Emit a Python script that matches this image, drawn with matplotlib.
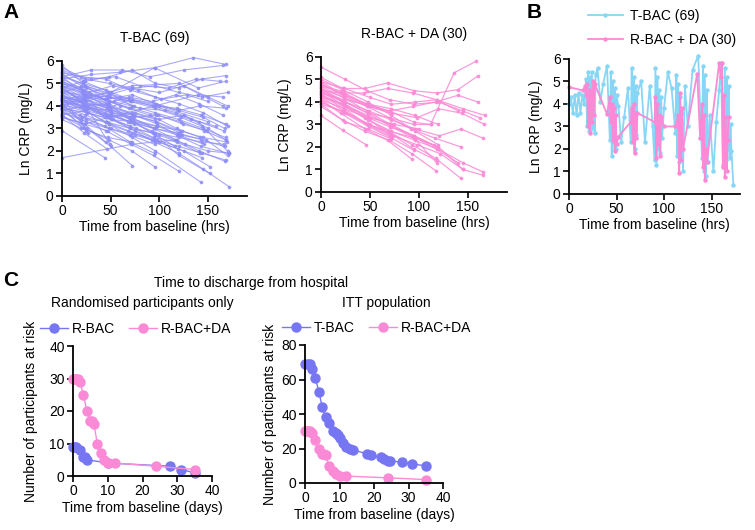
import matplotlib.pyplot as plt

plt.rcParams['font.family'] = ['Liberation Sans', 'DejaVu Sans']
plt.rcParams['font.size'] = 10

# ---- panel A data: one list per participant (hours, Ln CRP) ----
tbac_hrs = [
    [0, 22, 47, 70, 95, 120, 145, 172], [0, 24, 48, 72, 96, 143], [0, 25, 49, 73, 96, 120, 152],
    [0, 20, 45, 71, 94, 120], [0, 23, 48, 72, 95], [0, 26, 50, 72], [0, 44], [0, 72, 118],
    [0, 30, 60, 95, 135, 168], [0, 24, 48, 72, 96, 120, 144, 168], [0, 30, 62, 90, 125, 165],
    [0, 22, 50, 95, 140, 168], [0, 25, 48, 72, 100, 125, 150, 170], [0, 24, 72, 120, 165],
    [0, 20, 45, 70, 96, 120, 145, 170], [0, 22, 48, 71, 97, 122, 146, 168],
    [0, 24, 47, 73, 98, 118, 143, 171], [0, 26, 49, 70, 94, 117, 141, 167],
    [0, 23, 45, 68, 92, 119, 144], [0, 25, 50, 75, 100, 125, 152], [0, 18, 44, 70, 95],
    [0, 24, 48, 72, 96, 120, 145, 168], [0, 20, 46, 70, 96, 122, 144, 170],
    [0, 22, 47, 72, 97, 120, 145, 167], [0, 24, 48, 95, 140, 165],
    [0, 25, 50, 73, 97, 121, 145, 169], [0, 21, 45, 70, 95, 120, 144, 166],
    [0, 23, 48, 71, 96, 118, 143, 168], [0, 28, 52, 78, 102, 128, 150], [0, 22, 48],
    [0, 24, 47], [0, 26, 49], [0, 20, 45], [0, 24], [0, 25], [0, 23, 46], [0, 27],
    [0, 22, 50, 74], [0, 26, 51, 75, 98], [0, 19, 44, 69], [0, 24, 48, 73, 97, 121],
    [0, 25, 50, 74, 99, 124, 149], [0, 21, 46, 72, 95, 119, 142, 168],
    [0, 24, 49, 72, 96, 120, 144, 170], [0, 30, 55, 80, 110, 138, 162],
    [0, 22, 46, 70, 94, 118, 142], [0, 24, 47, 70, 93, 116], [0, 23, 48, 73, 98, 123, 148, 170],
    [0, 26, 52, 76, 100, 126, 150, 172], [0, 20, 47, 72], [0, 25, 48, 70, 95],
    [0, 24, 48, 72, 96, 120, 146], [0, 22, 45, 69, 93, 117, 141, 166],
    [0, 27, 53, 80, 106, 132, 158], [0, 24, 60, 100, 150], [0, 20, 44, 68, 92, 116],
    [0, 24, 47, 71, 95, 119, 143, 167], [0, 23, 46, 70], [0, 25, 49, 74], [0, 22, 46],
    [0, 24, 48, 72, 96], [0, 26, 50, 74, 98, 123], [0, 21, 45, 69, 93, 117, 141, 165],
    [0, 25, 50, 75, 100, 125, 150, 168], [0, 24, 48, 72], [0, 22, 47, 71, 96],
    [0, 30, 60, 90, 118, 142], [0, 23, 47], [0, 24, 48, 72, 96, 120, 144, 168],
]
tbac_crp = [
    [4.6, 4.1, 3.5, 3.0, 2.4, 1.9, 1.2, 0.4], [4.2, 3.8, 3.2, 2.6, 2.0, 0.6], [5.0, 4.5, 3.9, 3.3, 2.7, 1.8, 1.0],
    [3.9, 3.4, 2.9, 2.3, 1.8, 1.1], [3.6, 3.0, 2.5, 2.0, 1.3], [3.8, 3.0, 2.2, 1.35], [2.9, 1.7], [1.7, 2.3, 2.5],
    [5.2, 5.4, 5.5, 5.7, 6.15, 5.85], [5.5, 5.1, 5.3, 5.6, 5.0, 4.8, 5.2, 5.35], [5.3, 5.6, 5.6, 5.3, 5.6, 5.8],
    [4.8, 5.1, 4.6, 5.7, 4.8, 5.1], [4.4, 4.2, 4.5, 4.8, 4.6, 4.9, 4.4, 4.0], [4.1, 4.3, 4.9, 5.0, 4.0],
    [5.7, 5.3, 5.2, 4.7, 4.4, 4.1, 3.7, 3.1], [5.1, 4.7, 4.2, 3.9, 3.6, 3.3, 2.9, 2.5],
    [4.9, 4.3, 4.0, 3.6, 3.2, 2.7, 2.2, 1.9], [4.5, 4.0, 3.6, 3.3, 3.0, 2.5, 2.0, 1.55],
    [4.3, 3.8, 3.3, 2.9, 2.5, 2.1, 1.7], [3.7, 3.4, 3.0, 2.7, 2.4, 2.0, 1.3], [4.0, 3.6, 3.1, 2.4, 1.9],
    [4.7, 4.4, 4.6, 4.0, 3.7, 3.4, 3.0, 2.6], [5.4, 4.9, 4.4, 4.2, 3.9, 3.5, 3.1, 2.0],
    [4.0, 4.2, 3.9, 4.3, 4.1, 3.8, 3.5, 3.0], [3.5, 3.2, 3.5, 4.0, 4.5, 4.4],
    [4.2, 3.9, 3.8, 3.6, 3.3, 2.9, 2.6, 2.4], [3.9, 3.5, 3.3, 3.0, 2.8, 2.6, 2.4, 2.3],
    [4.6, 4.5, 4.4, 4.2, 4.0, 3.9, 3.6, 3.2], [5.0, 4.6, 4.9, 4.7, 4.3, 4.5, 4.2], [5.8, 5.0, 4.1],
    [5.3, 4.5, 3.3], [4.9, 3.9, 2.3], [4.1, 3.3, 2.4], [4.5, 3.8], [3.9, 2.9], [3.6, 2.8, 2.1], [4.4, 2.8],
    [4.8, 4.2, 3.7, 3.2], [4.3, 3.9, 3.4, 2.9, 2.5], [5.2, 4.8, 4.3, 3.9], [4.0, 4.4, 4.1, 3.6, 3.3, 2.8],
    [3.8, 4.0, 3.7, 3.5, 3.6, 3.2, 2.9], [4.9, 4.6, 4.3, 4.5, 4.1, 3.8, 4.0, 3.9],
    [5.6, 5.2, 5.0, 4.8, 4.9, 4.6, 4.4, 4.6], [5.5, 5.2, 5.3, 4.9, 4.8, 5.2, 5.1],
    [4.4, 4.0, 3.5, 3.1, 2.6, 2.4, 1.9], [5.1, 4.6, 4.1, 3.4, 2.8, 2.2], [4.7, 4.3, 3.9, 3.4, 3.1, 2.7, 2.5, 1.8],
    [4.1, 3.7, 3.4, 3.0, 2.7, 2.3, 2.0, 1.9], [3.4, 3.0, 2.6, 2.4], [3.7, 3.3, 3.0, 2.7, 2.3],
    [4.5, 4.1, 3.8, 3.4, 3.0, 2.7, 2.3], [5.3, 5.0, 4.7, 4.3, 4.0, 3.7, 3.3, 2.9],
    [4.2, 4.4, 4.2, 3.9, 3.8, 3.4, 3.1], [4.6, 4.9, 4.4, 4.0, 3.3], [4.8, 4.2, 3.7, 3.3, 2.9, 2.5],
    [4.0, 3.9, 3.6, 3.3, 3.0, 2.8, 2.5, 2.2], [4.3, 4.0, 3.6, 3.5], [5.0, 4.8, 4.4, 4.0], [4.6, 4.3, 3.9],
    [4.4, 4.1, 4.0, 3.7, 3.4], [3.9, 3.7, 3.4, 3.3, 3.1, 2.9], [4.2, 4.0, 4.1, 4.4, 4.2, 4.5, 4.1, 3.6],
    [3.6, 3.8, 3.5, 3.7, 3.4, 3.6, 3.0, 2.5], [5.4, 4.9, 4.5, 4.2], [4.9, 4.5, 4.0, 3.5, 3.0],
    [4.3, 4.5, 4.0, 3.6, 3.0, 2.6], [3.5, 3.2, 2.9], [4.0, 3.6, 3.2, 2.8, 2.5, 2.2, 1.9, 1.6],
]

rbacda_hrs = [
    [0, 25, 47, 70, 95, 120, 145, 162], [0, 24, 48, 70, 95, 112, 136, 158],
    [0, 22, 45, 68, 95, 118, 140, 160], [0, 24, 50, 72, 96, 118, 145, 168],
    [0, 20, 46, 70, 94, 117, 140, 160], [0, 23, 48, 73, 98, 120, 144, 167],
    [0, 25, 49, 72, 96, 121, 143, 165], [0, 22, 47, 70, 92, 116, 143],
    [0, 24, 48, 72, 96, 120, 145, 165], [0, 26, 50, 74, 98, 122, 145, 165],
    [0, 21, 45, 69, 93, 117, 143], [0, 24, 47, 71, 95, 118], [0, 22, 45, 70, 93, 117],
    [0, 25, 48, 72, 95, 118], [0, 20, 45, 68, 93], [0, 23, 47, 71, 95, 115], [0, 24, 48, 72, 96, 120],
    [0, 22, 46], [0, 25, 48, 72], [0, 24, 47, 70], [0, 23, 48, 70, 93, 118, 140],
    [0, 20, 48, 72, 96, 120], [0, 24, 45, 70, 95, 112], [0, 25, 50, 72],
    [0, 22, 44, 68, 94, 118, 140], [0, 24, 48, 70, 95, 118], [0, 21, 47, 71],
    [0, 24, 49, 72, 95], [0, 22, 48, 70, 96, 120, 145], [0, 26, 50, 75, 100],
]
rbacda_crp = [
    [5.55, 5.0, 4.5, 4.1, 3.9, 4.0, 3.6, 3.3], [4.5, 4.0, 3.5, 3.3, 3.0, 3.0, 5.3, 5.8],
    [5.1, 4.6, 4.6, 4.85, 4.5, 4.4, 4.55, 5.15], [4.9, 4.6, 4.2, 3.9, 4.0, 4.1, 3.7, 3.4],
    [4.7, 4.5, 3.9, 3.6, 3.8, 4.0, 4.3, 4.0], [4.6, 4.2, 3.8, 3.5, 3.3, 3.7, 3.5, 3.0],
    [4.4, 4.0, 3.6, 3.2, 2.8, 2.5, 2.8, 2.4], [4.8, 4.3, 3.8, 3.3, 2.8, 2.4, 2.0],
    [4.3, 3.8, 3.2, 2.7, 2.3, 1.9, 1.3, 0.9], [4.0, 3.5, 3.0, 2.5, 2.1, 1.7, 1.0, 0.75],
    [4.5, 3.9, 3.3, 2.7, 2.1, 1.5, 0.6], [4.2, 3.6, 3.0, 2.6, 1.9, 1.4], [3.8, 3.2, 2.7, 2.3, 1.7, 0.95],
    [4.6, 4.0, 3.5, 2.9, 2.4, 1.3], [4.1, 3.5, 2.8, 2.3, 1.45], [4.7, 4.2, 3.6, 3.0, 2.5, 2.1],
    [5.0, 4.5, 4.0, 3.4, 2.7, 2.1], [3.4, 2.75, 2.1], [3.9, 3.1, 2.8, 2.35], [4.3, 3.7, 3.0, 2.5],
    [4.2, 3.9, 3.4, 3.0, 2.5, 1.9, 1.3], [4.9, 4.4, 3.9, 3.7, 3.4, 3.0], [4.4, 4.1, 3.9, 3.6, 3.1, 3.0],
    [4.8, 4.3, 3.8, 3.5], [4.5, 4.4, 4.4, 4.6, 4.4, 4.1, 3.6], [4.1, 3.7, 3.3, 2.9, 2.5, 2.0],
    [4.6, 4.0, 3.3, 2.5], [4.0, 3.5, 2.9, 2.4, 1.85], [3.9, 3.6, 3.0, 2.7, 2.4, 2.0, 1.0],
    [4.35, 3.8, 3.3, 3.0, 2.8],
]

# ---- panel B data: all values joined as one series per arm ----
b_tbac_hrs = [0, 2, 4, 6, 8, 10, 12, 14, 16, 18, 19, 20, 21, 22, 23, 24, 25, 26, 27, 28,
              30, 33, 36, 40, 43, 44, 45, 46, 47, 48, 49, 50, 52, 55, 58, 62, 65, 66, 67,
              68, 69, 70, 71, 72, 76, 80, 85, 88, 90, 91, 92, 93, 94, 95, 96, 97, 98, 100,
              104, 108, 112, 113, 114, 115, 116, 117, 118, 119, 120, 122, 125, 130, 136,
              140, 141, 142, 143, 144, 145, 146, 148, 152, 155, 158, 160, 162, 164, 165,
              166, 167, 168, 169, 170, 171, 173]
b_tbac_crp = [4.0, 4.3, 3.6, 4.4, 3.5, 4.5, 3.6, 4.4, 4.0, 5.1, 3.0, 5.4, 2.8, 5.2, 2.9,
              5.4, 3.0, 4.6, 2.7, 5.3, 5.6, 4.1, 4.9, 5.7, 2.4, 5.4, 1.7, 5.0, 2.3, 4.7,
              2.0, 4.4, 3.9, 2.3, 3.4, 4.7, 2.3, 5.6, 2.8, 5.2, 2.0, 4.8, 2.6, 4.5, 5.0,
              2.3, 4.8, 3.0, 1.5, 5.6, 1.3, 5.2, 2.0, 4.6, 1.8, 4.3, 2.5, 3.8, 5.4, 4.7,
              2.7, 5.3, 1.7, 4.9, 1.4, 4.3, 2.2, 3.6, 1.0, 4.8, 3.0, 5.5, 6.15, 1.6, 5.7,
              1.0, 5.3, 0.8, 4.6, 1.4, 3.5, 1.0, 3.2, 4.6, 5.8, 1.3, 5.6, 1.5, 5.2, 2.0,
              4.8, 1.6, 3.1, 1.9, 0.4]
b_rbacda_hrs = [0, 15, 17, 18, 19, 20, 21, 22, 23, 24, 25, 26, 27, 40, 43, 44, 45, 46,
                47, 48, 49, 50, 52, 65, 66, 67, 68, 69, 70, 71, 72, 90, 91, 92, 93, 94,
                95, 96, 97, 100, 112, 115, 116, 117, 118, 119, 120, 135, 138, 140, 141,
                142, 143, 144, 145, 158, 160, 161, 162, 163, 164, 165, 166, 167, 168]
b_rbacda_crp = [4.75, 4.6, 4.8, 4.4, 4.9, 3.0, 4.6, 2.7, 4.5, 3.2, 5.0, 3.5, 4.9, 3.55,
                4.3, 3.2, 4.0, 2.4, 3.8, 1.9, 3.5, 2.2, 2.55, 3.2, 3.8, 2.3, 4.0, 1.8,
                3.6, 2.5, 3.6, 3.2, 4.3, 1.6, 4.0, 2.2, 3.5, 1.7, 3.4, 3.0, 3.0, 3.5,
                0.95, 4.5, 1.5, 3.8, 2.0, 5.35, 2.5, 4.0, 1.2, 3.5, 0.6, 2.0, 1.4, 5.8,
                5.2, 5.8, 1.2, 4.4, 0.75, 3.4, 1.0, 2.4, 3.4]

# ---- panel C data ----
rbac_days = [0, 0.5, 1, 2, 3, 3.5, 4, 10, 28, 31, 35]
rbac_risk = [9, 9, 9, 8, 6, 6, 5, 4, 3, 2, 1]
rbacda_days = [0, 0.5, 1, 1.5, 2, 3, 4, 5, 5.5, 6, 7, 8, 9, 10, 12, 24, 35]
rbacda_risk = [30, 30, 30, 30, 29, 25, 20, 17, 17, 16, 10, 7, 5, 4, 4, 3, 2]
tbac_days = [0, 1, 1.5, 2, 3, 4, 5, 6, 7, 8, 9, 9.5, 10, 11, 12, 13, 14, 18, 19, 22, 23,
             24, 24.5, 28, 31, 35]
tbac_risk = [69, 69, 69, 66, 61, 53, 44, 38, 35, 30, 29, 28, 26, 23, 21, 20, 19, 17, 16,
             15, 14, 13, 13, 12, 11, 10]

lav = '#8c8cf7'
pink = '#fb8ad6'
cyan = '#88d6f6'
blue = '#7676f2'


def prism(ax):
    ax.spines['top'].set_visible(False)
    ax.spines['right'].set_visible(False)
    ax.spines['left'].set_linewidth(1.3)
    ax.spines['bottom'].set_linewidth(1.3)
    ax.tick_params(width=1.2, length=4, labelsize=10, pad=2)


fig = plt.figure(figsize=(7.55, 5.3), dpi=100)
W, H = 755.0, 530.0


def add_ax(l, t, r, b):
    return fig.add_axes([l / W, 1 - b / H, (r - l) / W, (b - t) / H])


# A left
ax1 = add_ax(62, 61, 247, 196)
for t, v in zip(tbac_hrs, tbac_crp):
    ax1.plot(t, v, '-o', color=lav, lw=0.8, ms=1.7, alpha=0.75, clip_on=False)
ax1.set_title('T-BAC (69)', fontsize=10, pad=14)

# A right
ax2 = add_ax(321, 57, 507, 192)
for t, v in zip(rbacda_hrs, rbacda_crp):
    ax2.plot(t, v, '-o', color=pink, lw=0.9, ms=1.7, alpha=0.85, clip_on=False)
ax2.set_title('R-BAC + DA (30)', fontsize=10, pad=14)

for ax in (ax1, ax2):
    ax.set_xlim(0, 190)
    ax.set_ylim(0, 6)
    ax.set_xticks([0, 50, 100, 150])
    ax.set_yticks(range(7))
    ax.set_xlabel('Time from baseline (hrs)', labelpad=1)
    ax.set_ylabel('Ln CRP (mg/L)', labelpad=9)
    prism(ax)

# B
ax3 = add_ax(569, 59, 740, 194)
ax3.plot(b_tbac_hrs, b_tbac_crp, '-o', color=cyan, lw=1.3, ms=2.2, label='T-BAC (69)', clip_on=False)
ax3.plot(b_rbacda_hrs, b_rbacda_crp, '-o', color=pink, lw=1.3, ms=2.2, label='R-BAC + DA (30)', clip_on=False)
ax3.set_xlim(0, 180)
ax3.set_ylim(0, 6)
ax3.set_xticks([0, 50, 100, 150])
ax3.set_yticks(range(7))
ax3.set_xlabel('Time from baseline (hrs)', labelpad=1)
ax3.set_ylabel('Ln CRP (mg/L)', labelpad=7)
prism(ax3)
ax3.legend(loc='upper left', bbox_to_anchor=(588 / W, 1 - 9 / H), bbox_transform=fig.transFigure,
           frameon=False, fontsize=10, handlelength=2.5, handletextpad=0.5, labelspacing=0.7,
           borderaxespad=0, borderpad=0)

# C left
ax4 = add_ax(73, 346, 212, 476)
ax4.plot(rbac_days, rbac_risk, '-o', color=blue, lw=1, ms=6.5, label='R-BAC', clip_on=False)
ax4.plot(rbacda_days, rbacda_risk, '-o', color=pink, lw=1, ms=6.5, label='R-BAC+DA', clip_on=False)
ax4.set_ylim(0, 40)
ax4.set_yticks([0, 10, 20, 30, 40])
ax4.set_ylabel('Number of participants at risk', labelpad=8)
ax4.legend(loc='lower center', bbox_to_anchor=(0.45, 1.0), ncol=2, frameon=False,
           fontsize=10, handlelength=2.0, handletextpad=0.3, columnspacing=1.0,
           borderaxespad=0.3)

# C right
ax5 = add_ax(305, 345, 443, 483)
ax5.plot(tbac_days, tbac_risk, '-o', color=blue, lw=1, ms=6.5, label='T-BAC', clip_on=False)
ax5.plot(rbacda_days, rbacda_risk, '-o', color=pink, lw=1, ms=6.5, label='R-BAC+DA', clip_on=False)
ax5.set_ylim(0, 80)
ax5.set_yticks([0, 20, 40, 60, 80])
ax5.set_ylabel('Number of participants at risk', labelpad=3)
ax5.legend(loc='lower center', bbox_to_anchor=(0.52, 1.0), ncol=2, frameon=False,
           fontsize=10, handlelength=2.0, handletextpad=0.3, columnspacing=1.0,
           borderaxespad=0.3)

for ax in (ax4, ax5):
    ax.set_xlim(0, 40)
    ax.set_xticks([0, 10, 20, 30, 40])
    ax.set_xlabel('Time from baseline (days)', labelpad=2)
    prism(ax)

fig.text(251 / W, 1 - 283 / H, 'Time to discharge from hospital', ha='center', va='center', fontsize=10)
fig.text(142 / W, 1 - 303 / H, 'Randomised participants only', ha='center', va='center', fontsize=10)
fig.text(386 / W, 1 - 303 / H, 'ITT population', ha='center', va='center', fontsize=10)
fig.text(3 / W, 1 - 12 / H, 'A', fontsize=15, fontweight='bold', va='center')
fig.text(527 / W, 1 - 12 / H, 'B', fontsize=15, fontweight='bold', va='center')
fig.text(3 / W, 1 - 280 / H, 'C', fontsize=15, fontweight='bold', va='center')

fig.savefig('out.png', dpi=100)
